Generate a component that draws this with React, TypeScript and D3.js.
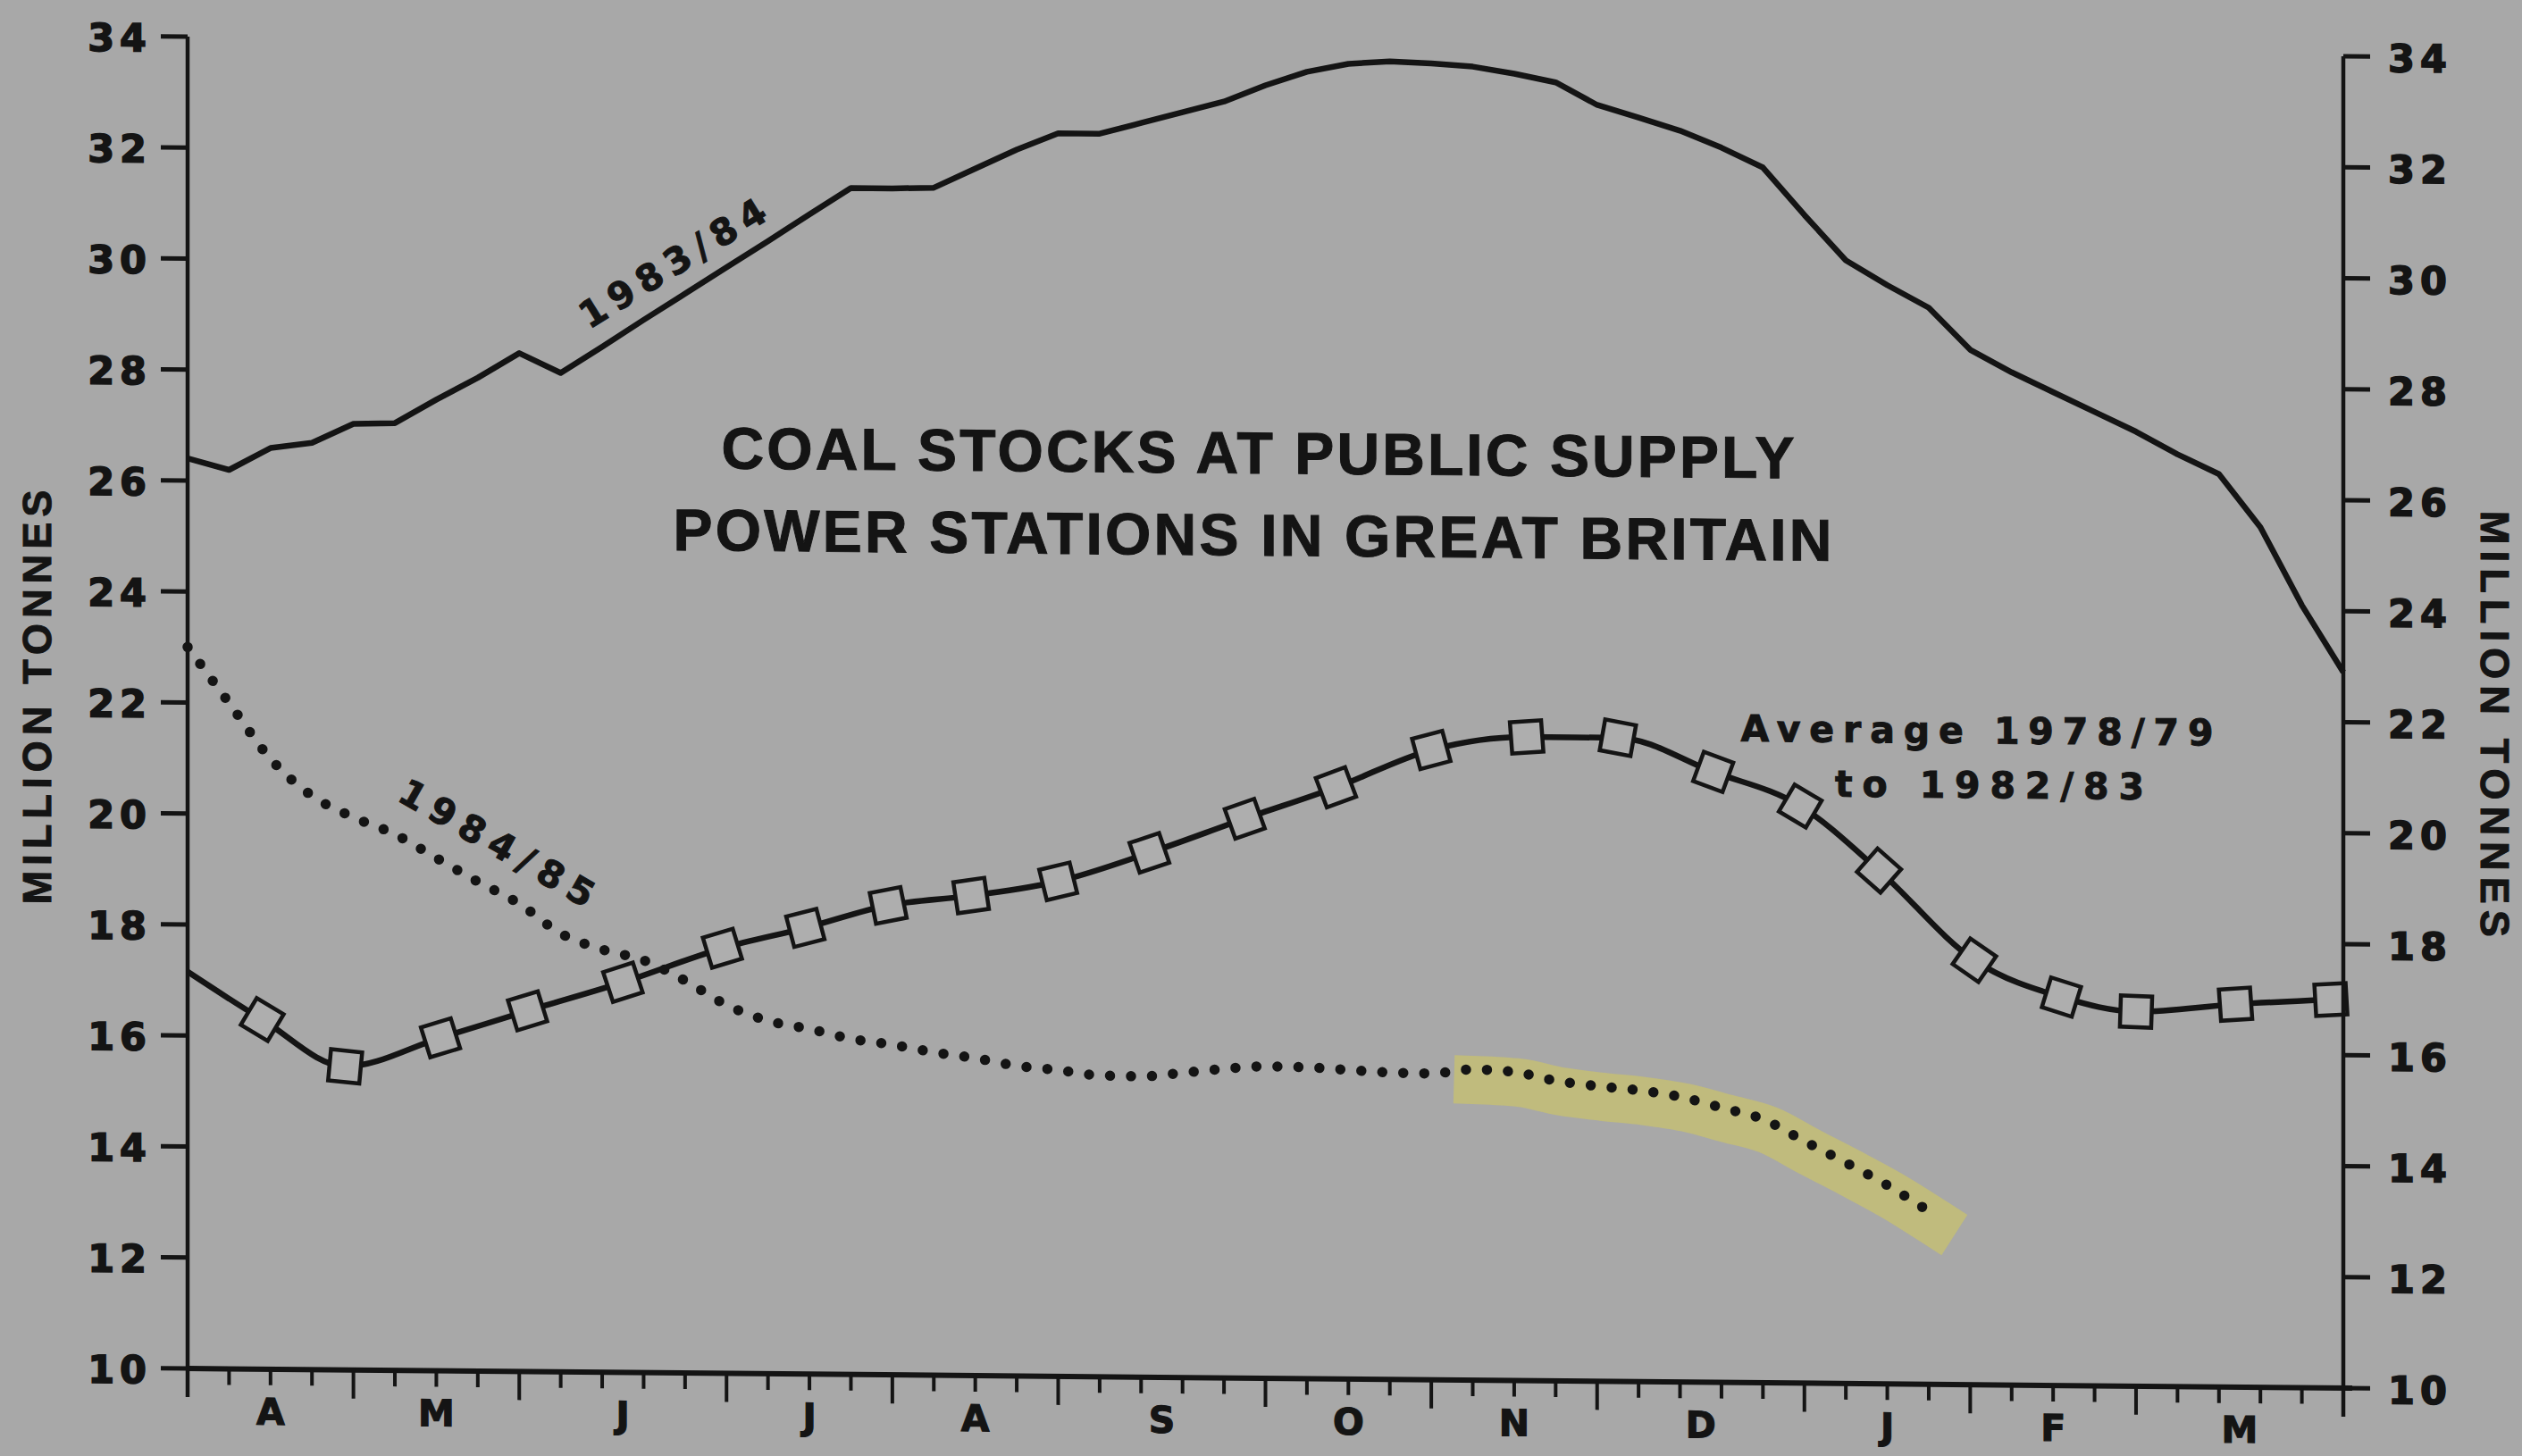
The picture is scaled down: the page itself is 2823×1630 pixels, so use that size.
import React from 'react';
import * as d3 from 'd3';

// chart canvas
const width = 2823;
const height = 1630;

// x axis: financial year April..March in weeks (4-4-5 pattern)
const monthLabels = ['A', 'M', 'J', 'J', 'A', 'S', 'O', 'N', 'D', 'J', 'F', 'M'];
const weeksPerMonth = [4, 4, 5, 4, 4, 5, 4, 4, 5, 4, 4, 5];
const yTicks = [10, 12, 14, 16, 18, 20, 22, 24, 26, 28, 30, 32, 34];

// 1983/84 weekly stocks (million tonnes), week 0..52
const stocks1983 = [
  26.4, 26.2, 26.6, 26.7, 27.05, 27.07, 27.5, 27.9, 28.35, 28.0,
  28.48, 28.97, 29.45, 29.93, 30.41, 30.9, 31.38, 31.38, 31.4, 31.75,
  32.1, 32.4, 32.4, 32.6, 32.8, 33.0, 33.3, 33.55, 33.7, 33.75,
  33.72, 33.67, 33.55, 33.4, 33.0, 32.78, 32.55, 32.25, 31.9, 31.05,
  30.24, 29.8, 29.4, 28.65, 28.25, 27.9, 27.55, 27.2, 26.8, 26.45,
  25.5, 24.1, 22.9,
];

// 1984/85 weekly stocks, week 0..42
const stocks1984 = [
  23.0, 22.0, 21.0, 20.34, 19.96, 19.66, 19.24, 18.82, 18.43, 17.9,
  17.62, 17.43, 17.07, 16.64, 16.36, 16.22, 16.05, 15.95, 15.82, 15.72,
  15.59, 15.52, 15.43, 15.42, 15.49, 15.57, 15.62, 15.61, 15.57, 15.53,
  15.52, 15.6, 15.56, 15.41, 15.32, 15.25, 15.14, 14.95, 14.75, 14.36,
  13.98, 13.58, 13.12,
];

// average 1978/79 to 1982/83, half-monthly points (week position, value)
const avgWeeks = [
  0, 1.8, 3.8, 6.1, 8.2, 10.5, 12.9, 14.9, 16.9, 18.9, 21.0, 23.2, 25.5,
  27.7, 30.0, 32.3, 34.5, 36.8, 38.9, 40.8, 43.1, 45.2, 47.0, 49.4, 51.7,
];
const avgValues = [
  17.15, 16.3, 15.47, 16.0, 16.5, 17.03, 17.66, 18.04, 18.46, 18.65, 18.92, 19.45, 20.08,
  20.66, 21.35, 21.6, 21.6, 21.0, 20.4, 19.25, 17.65, 17.0, 16.75, 16.9, 17.0,
];

// highlighter pen mark on the 1984/85 line starts at this week
const highlightFrom = 31;

const INK = '#141414';
const PAPER = '#a8a8a8';
const x0 = 210;
const x1 = 2623;
const k = 0.0091; // the scan is slightly sheared

const App: React.FC = () => {
  const x = d3.scaleLinear().domain([0, 52]).range([x0, x1]);
  const y = d3.scaleLinear().domain([10, 34]).range([1532, 41]);

  const line1983 = d3.line<number>()
    .x((_, i) => x(i))
    .y(d => y(d))
    .curve(d3.curveLinear)(stocks1983);

  const line1984 = d3.line<number>()
    .x((_, i) => x(i))
    .y(d => y(d))
    .curve(d3.curveMonotoneX)(stocks1984);

  const hl = d3.line<number>()
    .x((_, i) => x(i + highlightFrom))
    .y(d => y(d))
    .curve(d3.curveMonotoneX)(stocks1984.slice(highlightFrom));

  const avgPts: [number, number][] = avgWeeks.map((w, i) => [w, avgValues[i]]);
  const lineAvg = d3.line<[number, number]>()
    .x(d => x(d[0]))
    .y(d => y(d[1]))
    .curve(d3.curveMonotoneX)(avgPts);

  const bounds = [0, ...Array.from(d3.cumsum(weeksPerMonth))];
  const weekTicks = d3.range(0, 53);
  const y10 = y(10);

  const digitFont = { fontFamily: '"DejaVu Sans", sans-serif', fontWeight: 700 };
  const titleFont = { fontFamily: '"Liberation Sans", Arial, sans-serif', fontWeight: 700 };

  return (
    <svg width={width} height={height} viewBox={`0 0 ${width} ${height}`}
      style={{ position: 'absolute', left: 0, top: 0, display: 'block' }}>
      <rect x={0} y={0} width={width} height={height} fill={PAPER} />
      <g transform={`matrix(1, ${k}, 0, 1, 0, ${-k * x0})`}>
        {/* highlighter */}
        <path d={hl || ''} transform="translate(6, 12)" fill="none" stroke="#c2bd78" strokeOpacity={0.9}
          strokeWidth={54} strokeLinecap="square" strokeLinejoin="round" />

        {/* 1984/85 dotted */}
        <path d={line1984 || ''} fill="none" stroke={INK} strokeWidth={11.5}
          strokeDasharray="0 23.5" strokeLinecap="round" />

        {/* 1983/84 solid */}
        <path d={line1983 || ''} fill="none" stroke={INK} strokeWidth={6.5} strokeLinejoin="round" />

        {/* average line with squares */}
        <path d={lineAvg || ''} fill="none" stroke={INK} strokeWidth={6.5} strokeLinejoin="round" />
        {avgPts.slice(1).map((p, j) => {
          const i = j + 1;
          const prev = avgPts[i - 1];
          const next = avgPts[Math.min(i + 1, avgPts.length - 1)];
          const ang = Math.atan2(y(next[1]) - y(prev[1]), x(next[0]) - x(prev[0])) * 180 / Math.PI;
          const s = 35;
          return (
            <rect key={i} x={-s / 2} y={-s / 2} width={s} height={s}
              transform={`translate(${x(p[0])},${y(p[1])}) rotate(${ang})`}
              fill="#aeaeae" stroke={INK} strokeWidth={4.5} />
          );
        })}

        {/* axes */}
        <line x1={x0} x2={x0} y1={y(34)} y2={y10 + 32} stroke={INK} strokeWidth={4.5} />
        <line x1={x1} x2={x1} y1={y(34)} y2={y10 + 32} stroke={INK} strokeWidth={4.5} />
        <line x1={x0} x2={x1 + 10} y1={y10} y2={y10} stroke={INK} strokeWidth={6} />
        {yTicks.map(t => (
          <g key={t}>
            <line x1={x0 - 30} x2={x0} y1={y(t)} y2={y(t)} stroke={INK} strokeWidth={5} />
            <line x1={x1} x2={x1 + 30} y1={y(t)} y2={y(t)} stroke={INK} strokeWidth={5} />
            <text x={x0 - 40} y={y(t) + 17} textAnchor="end" fontSize={43} letterSpacing={6}
              fill={INK} stroke={INK} strokeWidth={1.6} style={digitFont}>{t}</text>
            <text x={x1 + 50} y={y(t) + 17} textAnchor="start" fontSize={43} letterSpacing={6}
              fill={INK} stroke={INK} strokeWidth={1.6} style={digitFont}>{t}</text>
          </g>
        ))}
        {weekTicks.map(w => {
          const major = bounds.includes(w);
          return (
            <line key={w} x1={x(w)} x2={x(w)} y1={y10} y2={y10 + (major ? 32 : 18)}
              stroke={INK} strokeWidth={4} />
          );
        })}
        {monthLabels.map((m, i) => (
          <text key={i} x={x((bounds[i] + bounds[i + 1]) / 2)} y={1594} textAnchor="middle"
            fontSize={41} fill={INK} stroke={INK} strokeWidth={1.2} style={digitFont}>{m}</text>
        ))}

        {/* axis titles */}
        <text transform="translate(42, 782) rotate(-90)" textAnchor="middle" dominantBaseline="central"
          fontSize={45} textLength={464} lengthAdjust="spacing" fill={INK} stroke={INK} strokeWidth={1}
          style={titleFont}>MILLION TONNES</text>
        <text transform="translate(2792, 787) rotate(90)" textAnchor="middle" dominantBaseline="central"
          fontSize={45} textLength={477} lengthAdjust="spacing" fill={INK} stroke={INK} strokeWidth={1}
          style={titleFont}>MILLION TONNES</text>

        {/* chart title */}
        <text x={1408} y={519} textAnchor="middle" fontSize={66} textLength={1201} lengthAdjust="spacing"
          fill={INK} stroke={INK} strokeWidth={1} style={titleFont}>COAL STOCKS AT PUBLIC SUPPLY</text>
        <text x={1402} y={611} textAnchor="middle" fontSize={66} textLength={1297} lengthAdjust="spacing"
          fill={INK} stroke={INK} strokeWidth={1} style={titleFont}>POWER STATIONS IN GREAT BRITAIN</text>

        {/* series labels */}
        <text transform="translate(753, 290) rotate(-32)" textAnchor="middle" dominantBaseline="central"
          fontSize={41} textLength={238} lengthAdjust="spacing" fill={INK} stroke={INK} strokeWidth={1}
          style={digitFont}>1983/84</text>
        <text transform="translate(556, 941) rotate(29.5)" textAnchor="middle" dominantBaseline="central"
          fontSize={41} textLength={244} lengthAdjust="spacing" fill={INK} stroke={INK} strokeWidth={1}
          style={digitFont}>1984/85</text>
        <text x={2213} y={814} textAnchor="middle" fontSize={41} textLength={529} lengthAdjust="spacing"
          fill={INK} stroke={INK} strokeWidth={1} style={digitFont}>Average 1978/79</text>
        <text x={2227} y={875} textAnchor="middle" fontSize={41} textLength={346} lengthAdjust="spacing"
          fill={INK} stroke={INK} strokeWidth={1} style={digitFont}>to 1982/83</text>
      </g>
    </svg>
  );
};

export default App;
